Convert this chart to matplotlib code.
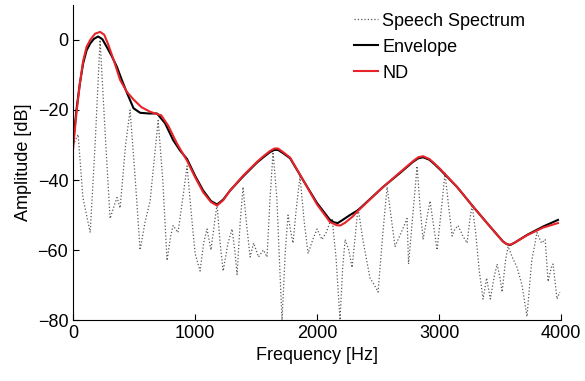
# Speech spectrum with its envelope and the ND estimate

import matplotlib
matplotlib.use('Agg')
import matplotlib.pyplot as plt

plt.rcParams['font.family'] = ['Liberation Sans', 'DejaVu Sans']

# speech spectrum
spec_freq = [0, 41, 80, 140, 180, 221, 260, 303, 340, 360, 385, 430, 467, 510, 549,
             590, 631, 697, 735, 770, 800, 820, 860, 900, 934, 970, 1000, 1041, 1070,
             1098, 1130, 1160, 1180, 1205, 1230, 1270, 1303, 1325, 1344, 1370, 1393,
             1420, 1451, 1480, 1520, 1560, 1590, 1615, 1639, 1670, 1700, 1713, 1740,
             1762, 1785, 1803, 1830, 1860, 1895, 1926, 1965, 2000, 2040, 2075, 2106,
             2123, 2155, 2188, 2210, 2230, 2260, 2287, 2310, 2336, 2380, 2434, 2470,
             2500, 2540, 2574, 2605, 2639, 2690, 2738, 2750, 2790, 2820, 2845, 2869,
             2900, 2926, 2955, 2984, 3020, 3049, 3080, 3107, 3130, 3156, 3195, 3230,
             3250, 3271, 3300, 3330, 3361, 3390, 3420, 3450, 3476, 3500, 3517, 3545,
             3566, 3600, 3640, 3680, 3721, 3760, 3803, 3840, 3870, 3894, 3920, 3935,
             3967, 3990]
spec_db = [-30, -27, -45, -55, -30, 0, -25, -51, -47, -45, -48, -30, -20, -40, -60,
           -52, -46, -23, -40, -63, -56, -53, -55, -45, -36, -50, -61, -66, -58,
           -54, -60, -52, -47, -58, -66, -58, -54, -60, -67, -52, -42,
           -52, -62, -58, -62, -60, -62, -45, -32, -45, -70, -80, -60,
           -50, -55, -58, -48, -39, -52, -61, -57, -54, -57, -55, -52,
           -51, -62, -80, -65, -57, -60, -65, -57, -48, -58, -68, -70,
           -72, -55, -42, -50, -59, -55, -51, -64, -48, -36, -48, -57,
           -51, -46, -53, -60, -48, -38, -48, -56, -54, -53, -56, -58,
           -52, -47, -55, -66, -74, -68, -74, -68, -64, -68, -72, -63,
           -59, -62, -65, -70, -79, -63, -55, -58, -57, -69, -65, -64,
           -74, -72]

# envelope
env_freq = [0, 27, 55, 82, 110, 140, 170, 205, 240, 276, 315, 358, 400, 440, 495,
            549, 620, 688, 754, 820, 875, 934, 1000, 1066, 1130, 1180, 1230, 1287,
            1393, 1508, 1560, 1615, 1650, 1680, 1720, 1779, 1885, 2000, 2106, 2140,
            2170, 2210, 2270, 2336, 2541, 2680, 2787, 2830, 2869, 2920, 2960, 3008,
            3148, 3279, 3418, 3525, 3555, 3582, 3620, 3721, 3853, 3975]
env_db = [-29.5, -20, -12.5, -6.7, -3, -1, 0.3, 1, 0.2, -2, -4.5, -7.6, -11.5, -15,
          -19.5, -20.8, -21, -21, -23.8, -28.6, -31.5, -34, -38.8, -43, -46, -47,
          -45.6, -43, -39, -35, -33.5, -32, -31.4, -31.4, -32.3, -33.8, -40, -46.6,
          -51.4, -52.1, -52.3, -51.4, -50, -48.6, -42, -38, -34.8, -33.8, -33.5,
          -34.2, -35.4, -37, -42, -47.6, -53.3, -57.6, -58.3, -58.6, -57.9, -55.7,
          -53.3, -51.4]

# ND
nd_freq = [0, 27, 55, 82, 110, 140, 180, 221, 255, 290, 335, 385, 440, 495, 560,
           631, 690, 722, 780, 850, 934, 1000, 1066, 1130, 1180, 1230, 1287, 1393,
           1508, 1560, 1615, 1650, 1680, 1720, 1779, 1885, 2000, 2106, 2160, 2190,
           2230, 2290, 2336, 2541, 2680, 2787, 2830, 2869, 2920, 2960, 3008, 3148,
           3279, 3418, 3525, 3555, 3582, 3620, 3721, 3853, 3975]
nd_db = [-31, -21, -12.5, -6, -2, 0, 1.8, 2.3, 1.5, -1.5, -6, -11.4, -14.8, -17,
         -19.2, -20.5, -21.2, -21.5, -24.5, -29.5, -34.5, -39.2, -43.5, -46.3, -47.3,
         -45.8, -43, -38.8, -34.8, -33.2, -31.7, -31, -31, -32, -33.6, -40, -47, -52,
         -52.9, -53, -52.2, -50.5, -48.8, -42, -37.8, -34.6, -33.5, -33.2, -34, -35.2,
         -36.8, -42, -47.6, -53.3, -57.6, -58.3, -58.5, -57.9, -55.8, -53.6, -52.3]

fig = plt.figure(figsize=(5.85, 3.81), dpi=100)
ax = fig.add_axes([0.125, 0.160, 0.834, 0.827])

ax.plot(spec_freq, spec_db, linestyle=':', color='0.35', linewidth=0.9,
        label='Speech Spectrum')
ax.plot(env_freq, env_db, color='black', linewidth=1.5, label='Envelope')
ax.plot(nd_freq, nd_db, color='#e8232a', linewidth=1.5, label='ND')

ax.set_xlim(0, 4000)
ax.set_ylim(-80, 10)
ax.set_xticks([0, 1000, 2000, 3000, 4000])
ax.set_yticks([0, -20, -40, -60, -80])
ax.set_xlabel('Frequency [Hz]', fontsize=13)
ax.set_ylabel('Amplitude [dB]', fontsize=13)
ax.tick_params(direction='in', length=4, labelsize=13)
ax.spines['top'].set_visible(False)
ax.spines['right'].set_visible(False)

ax.legend(loc='upper right', bbox_to_anchor=(0.96, 1.027), frameon=False, fontsize=13,
          handlelength=1.3, handletextpad=0.25, labelspacing=0.5)

fig.savefig('out.png', dpi=100)
